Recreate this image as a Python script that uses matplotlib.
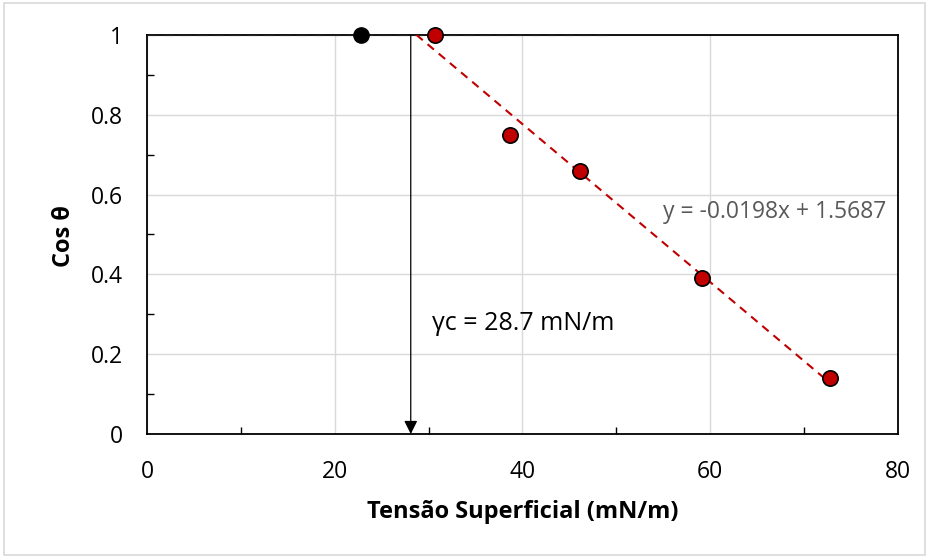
import numpy as np
import matplotlib
matplotlib.use('Agg')
from matplotlib import pyplot as plt
from matplotlib.patches import Rectangle

plt.rcParams['font.family'] = ['Open Sans', 'DejaVu Sans']

# dados
x_black = [22.8]
y_black = [1.0]
x_red = [30.7, 38.7, 46.1, 59.1, 72.8]
y_red = [1.0, 0.75, 0.66, 0.39, 0.14]
slope = -0.0198
intercept = 1.5687
x_arrow = 28.1
x_fit_start = 28.7
x_ticks = [0, 20, 40, 60, 80]
y_ticks = [0, 0.2, 0.4, 0.6, 0.8, 1]
y_tick_labels = ['0', '0.2', '0.4', '0.6', '0.8', '1']


def Plot_Zisman():
    fig = plt.figure(figsize=(9.29, 5.58), dpi=100)
    fig.patches.append(Rectangle((0.004, 0.006), 0.992, 0.988, transform=fig.transFigure,
                                 fill=False, edgecolor='#d9d9d9', linewidth=1.2))
    ax = fig.add_axes([0.1582, 0.2222, 0.8084, 0.7151])

    # grade
    ax.set_xlim(0, 80)
    ax.set_ylim(0, 1)
    ax.set_xticks(x_ticks)
    ax.set_yticks(y_ticks)
    ax.set_yticklabels(y_tick_labels)
    ax.set_xticks([10, 30, 50, 70], minor=True)
    ax.set_yticks([0.1, 0.3, 0.5, 0.7, 0.9], minor=True)
    ax.grid(True, which='major', color='#d9d9d9', linewidth=1)
    ax.tick_params(which='major', length=0, labelsize=16.5)
    ax.tick_params(axis='x', which='major', pad=19)
    ax.tick_params(axis='y', which='major', pad=17)
    ax.tick_params(which='minor', direction='in', length=5, width=1)
    for s in ax.spines.values():
        s.set_color('black')
        s.set_linewidth(1.3)

    # linha tracejada em y=1
    ax.plot([0, 49], [1, 1], color='#222222', linestyle=(0, (5, 3)), linewidth=1.5, zorder=3)

    # linha de tendencia
    xt = np.array([x_fit_start, x_red[-1]])
    ax.plot(xt, slope * xt + intercept, color='#C00000', linestyle=(0, (4, 3)),
            linewidth=1.5, zorder=3)

    # seta
    ax.annotate('', xy=(x_arrow, 0), xytext=(x_arrow, 1),
                arrowprops=dict(arrowstyle='-|>', color='black', lw=0.9,
                                mutation_scale=20, shrinkA=0, shrinkB=0), zorder=4)

    ax.plot(x_black, y_black, 'o', color='black', markersize=11, zorder=5, clip_on=False)
    ax.plot(x_red, y_red, 'o', color='#C00000', markeredgecolor='black',
            markeredgewidth=1.2, markersize=11, zorder=5, clip_on=False)

    ax.text(30.4, 0.277, 'γc = 28.7 mN/m', fontsize=18, ha='left', va='center')
    ax.text(55.0, 0.5575, 'y = -0.0198x + 1.5687', fontsize=16.5, color='#595959',
            ha='left', va='center')

    ax.set_xlabel('Tensão Superficial (mN/m)', fontsize=17, fontweight='bold')
    ax.xaxis.label.set_va('center')
    ax.xaxis.set_label_coords(0.5, -0.1955)
    ax.set_ylabel('Cos θ', fontsize=17, fontweight='bold')
    ax.yaxis.label.set_va('center')
    ax.yaxis.set_label_coords(-0.11, 0.496)

    plt.savefig('out.png', dpi=100)


if __name__ == '__main__':
    Plot_Zisman()
